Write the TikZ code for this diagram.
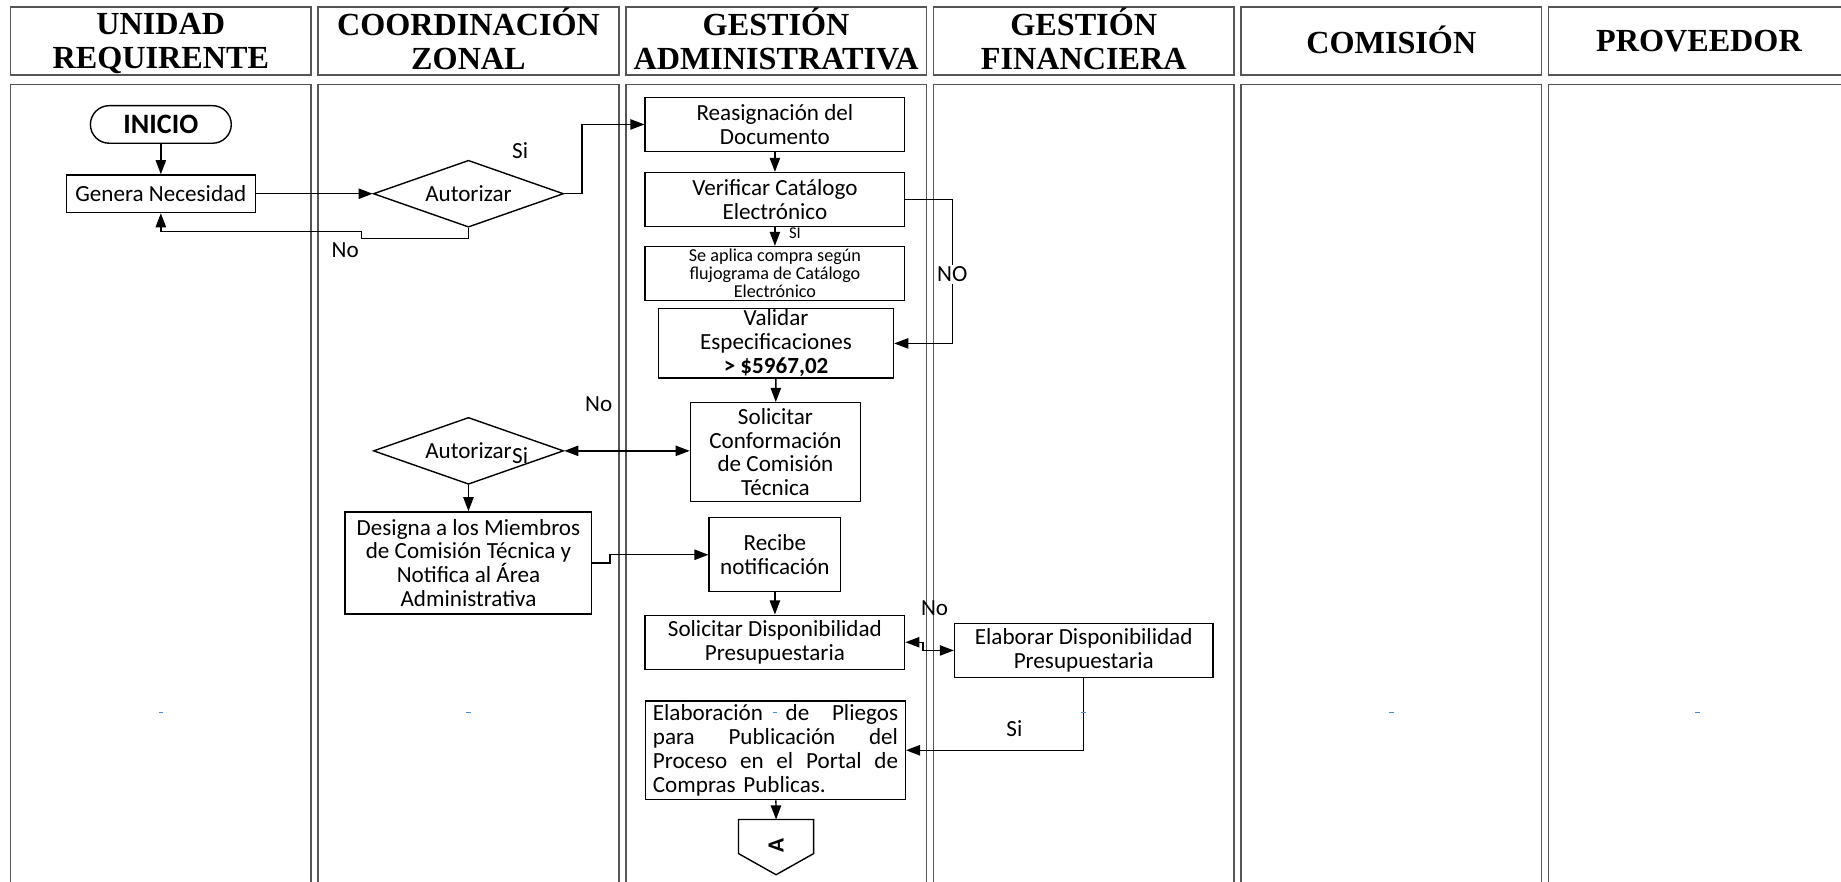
\documentclass[tikz,border=0pt]{standalone}
\usepackage{fontspec}
\setmainfont{Carlito}
\newfontfamily\lanefont{Liberation Serif}
\usetikzlibrary{arrows.meta,shapes.geometric}
\definecolor{laneline}{RGB}{85,85,85}
\definecolor{ink}{RGB}{0,0,0}
\definecolor{markblue}{RGB}{70,140,215}
\newcommand{\spreadline}[1]{\makebox[52.2mm]{#1}}
\tikzset{
  >={Triangle[length=3mm,width=2.2mm]},
  lane/.style={draw=laneline,line width=0.35mm},
  lanehead/.style={font={\lanefont\bfseries\fontsize{19.5}{20.5}\selectfont},align=center},
  proc/.style={draw=ink,line width=0.3mm,fill=white,align=center,inner sep=0pt,
    font=\fontsize{14}{14.5}\selectfont},
  small proc/.style={proc,font=\fontsize{11}{10.8}\selectfont},
  decision/.style={diamond,draw=ink,line width=0.3mm,aspect=2.8,inner sep=0pt,
    minimum width=40.5mm,minimum height=14.25mm,font=\fontsize{14}{14}\selectfont},
  terminal/.style={draw=ink,line width=0.3mm,rounded corners=4mm,minimum width=30mm,
    minimum height=8mm,font=\bfseries\fontsize{17}{17}\selectfont},
  flow/.style={->,draw=ink,line width=0.3mm},
  tag/.style={font=\fontsize{14}{14}\selectfont,inner sep=1pt},
}

\begin{document}
\begin{tikzpicture}[x=0.25mm,y=-0.25mm]
  \clip (0,0) rectangle (1568,751);
  % swimlanes
  \foreach \name/\yy [count=\i from 0] in {{UNIDAD\\REQUIRENTE}/37,{COORDINACIÓN\\ZONAL}/33,
      {GESTIÓN\\ADMINISTRATIVA}/33,{GESTIÓN\\FINANCIERA}/33,{COMISIÓN}/34,{PROVEEDOR}/35}{
    \draw[lane] (9+262*\i,6) rectangle ++(256,58);
    \draw[lane] (9+262*\i,72) rectangle ++(256,700);
    \node[lanehead] (head\i) at (137+262*\i,\yy) {\name};
  }

  % steps
  \node[terminal] (inicio) at (137,106) {INICIO};
  \node[proc,minimum width=40.25mm,minimum height=8mm] (gen) at (137,165) {Genera Necesidad};
  \node[decision] (aut1) at (399,165) {Autorizar};
  \node[proc,minimum width=55.25mm,minimum height=11.5mm] (reas) at (660,106) {Reasignación del\\Documento};
  \node[proc,minimum width=55.25mm,minimum height=11.5mm] (verif) at (660,170) {Verificar Catálogo\\Electrónico};
  \node[small proc,minimum width=55.25mm,minimum height=11.5mm] (catal) at (660,233) {Se aplica compra según\\flujograma de Catálogo\\Electrónico};
  \node[proc,minimum width=50mm,minimum height=14.75mm] (valid) at (661,292.5) {Validar\\Especificaciones\\\textbf{> \$5967,02}};
  \node[proc,minimum width=36.25mm,minimum height=21mm] (solconf) at (660.5,385) {Solicitar\\Conformación\\de Comisión\\Técnica};
  \node[decision] (aut2) at (399,384) {Autorizar};
  \node[proc,minimum width=52.5mm,minimum height=21.75mm] (designa) at (399,479.5) {Designa a los Miembros\\de Comisión Técnica y\\Notifica al Área\\Administrativa};
  \node[proc,minimum width=28mm,minimum height=15.75mm] (recibe) at (660,472.5) {Recibe\\notificación};
  \node[proc,minimum width=55.25mm,minimum height=11.5mm] (soldisp) at (660,547) {Solicitar Disponibilidad\\Presupuestaria};
  \node[proc,minimum width=55mm,minimum height=11.5mm] (elabdisp) at (923,554) {Elaborar Disponibilidad\\Presupuestaria};
  \node[proc,minimum width=55.25mm,minimum height=21mm,text width=52.2mm,align=left] (pliegos) at (660.5,639)
    {\spreadline{Elaboración\hfill de\hfill Pliegos}\\\spreadline{para\hfill Publicación\hfill del}\\
     \spreadline{Proceso\hfill en\hfill el\hfill Portal\hfill de}\\Compras Publicas.};

  % off-page connector
  \coordinate (atop) at (661,698);
  \draw[line width=0.3mm] (629,698) -- (693,698) -- (693,727) -- (661,745) -- (629,727) -- cycle;
  \node[rotate=90,font=\bfseries\fontsize{14}{14}\selectfont] (conA) at (661,720) {A};

  % connectors
  \draw[flow] (inicio) -- (gen);
  \draw[flow] (gen) -- (aut1);
  \draw[flow] (aut1.east) -- ++(15,0) |- (reas.west);
  \draw[flow] (aut1.south) -- ++(0,9) -- ++(-91,0) -- ++(0,-6) -| (gen.south);
  \draw[flow] (reas) -- (verif);
  \draw[flow] (verif) -- (catal);
  \draw[flow] (verif.east) -- ++(40,0) |- (valid.east) node[pos=0.26,fill=white,tag] {NO};
  \draw[flow] (valid) -- (solconf);
  \draw[flow,<->] (aut2.east) -- (aut2.east -| solconf.west);
  \draw[flow] (aut2) -- (designa);
  \draw[flow] (designa.east) -- ++(15,0) |- (recibe.west);
  \draw[flow] (recibe) -- (soldisp);
  \draw[flow,<->] (soldisp.east) -- ++(15,0) |- (elabdisp.west);
  \draw[flow] (elabdisp.south) |- (pliegos.east);
  \draw[flow] (pliegos) -- (atop);

  % branch labels
  \node[tag] (si1) at (443,128) {Si};
  \node[tag] (no1) at (294,213) {No};
  \node[tag,font=\fontsize{10}{10}\selectfont] (si2) at (677,199) {SI};
  \node[tag] (no3) at (510,344) {No};
  \node[tag] (si3) at (443,388) {Si};
  \node[tag] (no4) at (796,518) {No};
  \node[tag] (si4) at (864,621) {Si};

  \foreach \x in {137,399,660,923,1185,1446}
    \draw[markblue,line width=0.3mm] (\x-2,607) -- (\x+2,607);
\end{tikzpicture}
\end{document}
